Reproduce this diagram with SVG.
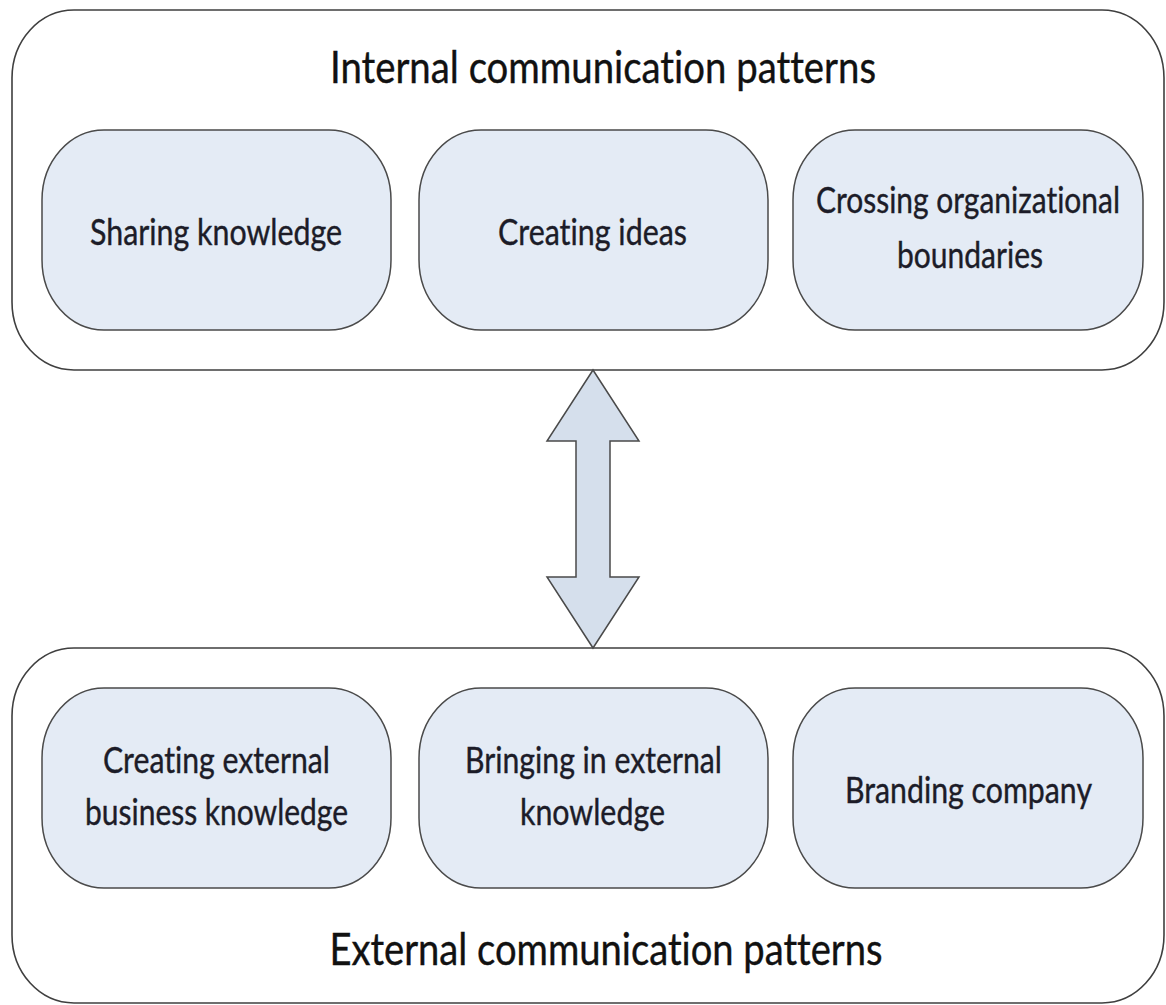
<svg xmlns="http://www.w3.org/2000/svg" width="1166" height="1005" viewBox="0 0 1166 1005">
<style>
.outer{fill:#ffffff;stroke:#3f3f3f;stroke-width:1.6}
.inner{fill:#e4ebf5;stroke:#4a4a4a;stroke-width:1.5}
text{font-family:Lato,"Liberation Sans",sans-serif;font-variant-ligatures:none;text-anchor:middle;stroke-width:0.4}
.title{font-size:45px;fill:#111;stroke:#111}
.lbl{font-size:37px;fill:#1c1c28;stroke:#1c1c28}
.arrow{fill:#d5dfec;stroke:#4a4a4a;stroke-width:1.5;stroke-linejoin:miter}
</style>
<rect width="1166" height="1005" fill="#ffffff"/>
<g id="internal">
<rect class="outer" x="12" y="10" width="1152" height="360" rx="62" ry="68"/>
<text class="title" x="603" y="83" textLength="546" lengthAdjust="spacingAndGlyphs">Internal communication patterns</text>
</g>
<g id="sharing-knowledge">
<rect class="inner" x="42" y="130" width="349" height="200" rx="62" ry="70"/>
<text class="lbl" x="216" y="245" textLength="252" lengthAdjust="spacingAndGlyphs">Sharing knowledge</text>
</g>
<g id="creating-ideas">
<rect class="inner" x="419" y="130" width="349" height="200" rx="62" ry="70"/>
<text class="lbl" x="592.5" y="245" textLength="189" lengthAdjust="spacingAndGlyphs">Creating ideas</text>
</g>
<g id="crossing-boundaries">
<rect class="inner" x="793" y="130" width="350" height="200" rx="62" ry="70"/>
<text class="lbl" x="968" y="213" textLength="304" lengthAdjust="spacingAndGlyphs">Crossing organizational</text>
<text class="lbl" x="970" y="268" textLength="146" lengthAdjust="spacingAndGlyphs">boundaries</text>
</g>
<g id="external">
<rect class="outer" x="12" y="648" width="1152" height="355" rx="62" ry="68"/>
<text class="title" x="606" y="965" textLength="553" lengthAdjust="spacingAndGlyphs">External communication patterns</text>
</g>
<g id="creating-external">
<rect class="inner" x="42" y="688" width="349" height="200" rx="62" ry="70"/>
<text class="lbl" x="216.5" y="773" textLength="227" lengthAdjust="spacingAndGlyphs">Creating external</text>
<text class="lbl" x="216.5" y="825" textLength="263" lengthAdjust="spacingAndGlyphs">business knowledge</text>
</g>
<g id="bringing-in">
<rect class="inner" x="419" y="688" width="349" height="200" rx="62" ry="70"/>
<text class="lbl" x="593.5" y="773" textLength="257" lengthAdjust="spacingAndGlyphs">Bringing in external</text>
<text class="lbl" x="592.5" y="825" textLength="145" lengthAdjust="spacingAndGlyphs">knowledge</text>
</g>
<g id="branding">
<rect class="inner" x="793" y="688" width="350" height="200" rx="62" ry="70"/>
<text class="lbl" x="968.5" y="803" textLength="247" lengthAdjust="spacingAndGlyphs">Branding company</text>
</g>
<g id="connectors">
<polygon class="arrow" points="593,370 639,441 610,441 610,577 639,577 593,648 547,577 576,577 576,441 547,441"/>
</g>
</svg>
